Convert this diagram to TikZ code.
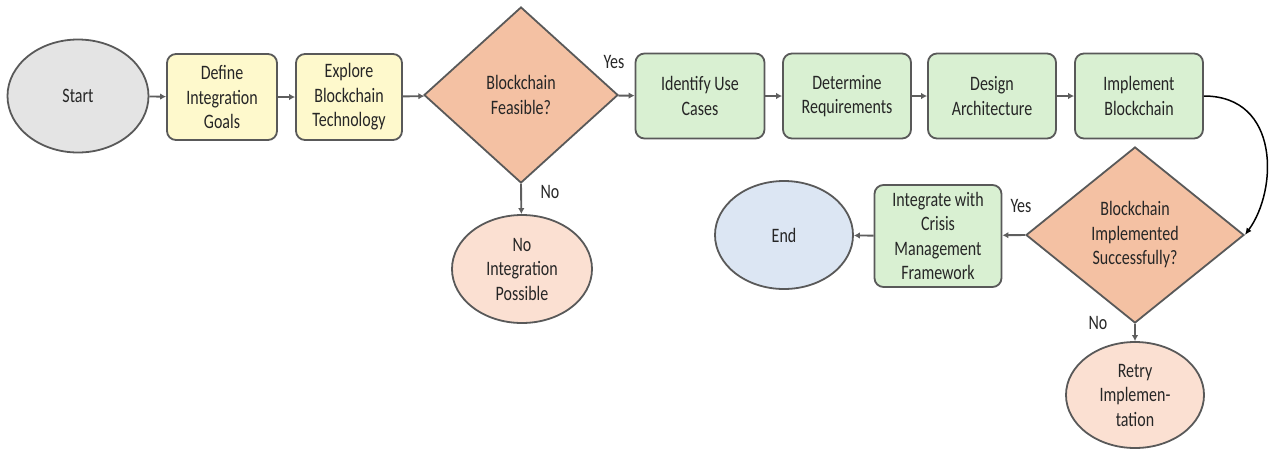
\documentclass[tikz,border=0pt]{standalone}
\usepackage{fontspec}
\setmainfont[FakeStretch=0.78]{Carlito}
\usetikzlibrary{shapes.geometric,arrows.meta}
\definecolor{edge}{HTML}{595959}
\definecolor{arrowgray}{HTML}{5E5E5E}
\definecolor{ink}{HTML}{262626}
\definecolor{startgray}{HTML}{E4E4E4}
\definecolor{goalyellow}{HTML}{FEF9CC}
\definecolor{stepgreen}{HTML}{D9F0D2}
\definecolor{decision}{HTML}{F4C1A3}
\definecolor{outcome}{HTML}{FBE0D2}
\definecolor{endblue}{HTML}{DCE6F3}
\tikzset{
  base/.style={draw=edge, line width=1.8pt, align=center, inner sep=0pt,
    text=ink, font=\fontsize{20.5}{24.5}\selectfont},
  oval/.style={base, ellipse},
  stepbox/.style={base, rounded corners=9pt},
  choice/.style={base, diamond, fill=decision},
  flow/.style={draw=arrowgray, line width=1.9pt, -{Latex[length=6pt,width=6.5pt]}},
  lab/.style={text=ink, font=\fontsize{20.5}{24.5}\selectfont, inner sep=0pt},
}
\begin{document}
\begin{tikzpicture}[x=1pt, y=-1pt]
\useasboundingbox (0,0) rectangle (1272,451);
% top row
\node[oval, fill=startgray, minimum width=141, minimum height=113] (start) at (78,96) {Start};
\node[stepbox, fill=goalyellow, minimum width=110, minimum height=86] (define) at (222,97) {Define\\Integration\\Goals};
\node[stepbox, fill=goalyellow, minimum width=106, minimum height=86] (explore) at (349,97) {Explore\\Blockchain\\Technology};
\node[choice, minimum width=194, minimum height=176] (feasible) at (521,95) {Blockchain\\Feasible?};
\node[stepbox, fill=stepgreen, minimum width=129, minimum height=85] (usecases) at (700,96) {Identify Use\\Cases};
\node[stepbox, fill=stepgreen, minimum width=128, minimum height=85] (reqs) at (847,96) {Determine\\Requirements};
\node[stepbox, fill=stepgreen, minimum width=128, minimum height=85] (arch) at (992,96) {Design\\Architecture};
\node[stepbox, fill=stepgreen, minimum width=128, minimum height=85] (impl) at (1139,96) {Implement\\Blockchain};
% lower part
\node[oval, fill=outcome, minimum width=140, minimum height=108] (noint) at (522,269) {No\\Integration\\Possible};
\node[choice, minimum width=218, minimum height=176] (success) at (1135,235) {Blockchain\\Implemented\\Successfully?};
\node[stepbox, fill=stepgreen, minimum width=127, minimum height=102] (crisis) at (938,236) {Integrate with\\Crisis\\Management\\Framework};
\node[oval, fill=endblue, minimum width=138, minimum height=108] (end) at (784,235) {End};
\node[oval, fill=outcome, minimum width=138, minimum height=106] (retry) at (1135,395) {Retry\\Implemen-\\tation};
% connectors
\draw[flow] (start) -- (define);
\draw[flow] (define) -- (explore);
\draw[flow] (explore) -- (feasible);
\draw[flow] (feasible) -- (usecases);
\draw[flow] (usecases) -- (reqs);
\draw[flow] (reqs) -- (arch);
\draw[flow] (arch) -- (impl);
\draw[flow] (feasible.south) -- (noint);
\draw[line width=1.5pt, -{Latex[length=7pt,width=6pt]}] (impl.east) .. controls (1280,96) and (1278,190) .. (success.east);
\draw[flow] (success.west) -- (crisis);
\draw[flow] (crisis) -- (end);
\draw[flow] (success.south) -- (retry);
% branch labels
\node[lab] (yes1) at (614,62) {Yes};
\node[lab] (no1) at (550,192) {No};
\node[lab] (yes2) at (1021,206) {Yes};
\node[lab] (no2) at (1098,323) {No};
\end{tikzpicture}
\end{document}
